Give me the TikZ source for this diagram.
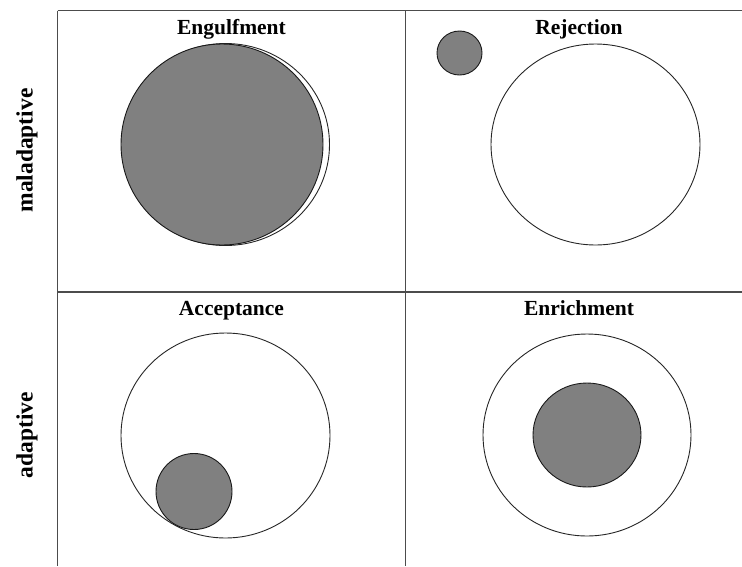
\documentclass[tikz,border=0pt]{standalone}
\usepackage{fontspec}
\setmainfont{Liberation Serif}
\begin{document}
\begin{tikzpicture}[x=1pt,y=-1pt,
  gridline/.style={line width=1.2pt,draw=black!70},
  outline/.style={line width=0.9pt,draw=black!85},
  blob/.style={line width=0.9pt,draw=black!90,fill=black!50},
  title/.style={font=\fontsize{21.5}{21.5}\selectfont\bfseries,inner sep=0pt,anchor=base},
  side/.style={font=\fontsize{23.5}{23.5}\selectfont\bfseries,inner sep=0pt,rotate=90,anchor=center}]
\useasboundingbox (0,0) rectangle (742,566);
% grid
\draw[gridline] (57.5,10.5) -- (742,10.5);
\draw[gridline] (57.5,292) -- (742,292);
\draw[gridline] (57.5,10.5) -- (57.5,566);
\draw[gridline] (405.5,10.5) -- (405.5,566);
% Engulfment
\draw[outline,fill=white] (225.5,144.5) ellipse [x radius=104,y radius=101];
\draw[blob] (222,144.5) ellipse [x radius=101,y radius=100.5];
% Rejection
\draw[blob] (459.5,53) ellipse [x radius=22.5,y radius=22];
\draw[outline] (595.5,144.5) ellipse [x radius=104.5,y radius=100.5];
% Acceptance
\draw[outline] (225.5,435.5) ellipse [x radius=104.5,y radius=102.5];
\draw[blob] (194,491.5) ellipse [x radius=38,y radius=38];
% Enrichment
\draw[outline] (587,435) ellipse [x radius=104,y radius=101];
\draw[blob] (587,435) ellipse [x radius=54,y radius=52];
% labels
\node[title] (eng) at (231.5,34) {Engulfment};
\node[title] (rej) at (579,34) {Rejection};
\node[title] (acc) at (231.5,315.5) {Acceptance};
\node[title] (enr) at (579,315.5) {Enrichment};
\node[side] (mal) at (27,150.5) {maladaptive};
\node[side] (ada) at (27,435) {adaptive};
\end{tikzpicture}
\end{document}
